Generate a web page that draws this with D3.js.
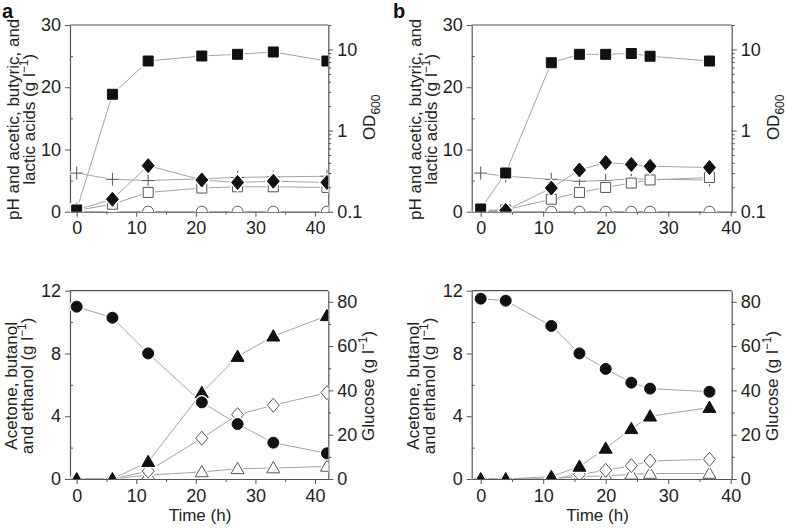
<!DOCTYPE html>
<html><head><meta charset="utf-8">
<script src="https://cdn.jsdelivr.net/npm/d3@7/dist/d3.min.js"></script>
<style>
html,body{margin:0;padding:0;background:#fff;}
svg{display:block;font-family:"Liberation Sans",Arial,sans-serif;}
</style></head>
<body>
<svg id="c" width="786" height="528"></svg>
<script>
// ---------- DATA ----------
const timeA = [0, 6, 12, 21, 27, 33, 42];
const odA = [0.105, 2.8, 7.2, 8.3, 8.7, 9.3, 7.2];
const phA = [6.2, 5.2, 5.0, 5.3, 5.5, 5.6, 5.7];
const butyricA = [0.3, 2.0, 7.4, 5.1, 4.7, 4.9, 4.7];
const aceticA = [0.2, 1.2, 3.1, 3.8, 4.0, 4.0, 3.9];
const lacticA = [0, 0, 0, 0, 0, 0, 0];
const glucoseA = [77.8, 72.8, 56.7, 34.6, 24.8, 16.4, 11.6];
const butanolA = [0, 0, 1.1, 5.5, 7.8, 9.1, 10.4];
const acetoneA = [0, 0, 0.5, 2.6, 4.1, 4.7, 5.5];
const ethanolA = [0, 0, 0.25, 0.45, 0.65, 0.7, 0.8];

const timeB = [0, 4, 11.3, 15.8, 20, 24.1, 27.1, 36.6];
const odB = [0.108, 0.30, 6.85, 8.7, 8.7, 8.9, 8.25, 7.2];
const phB = [6.2, 5.7, 5.2, 4.9, 5.0, 5.3, 5.2, 5.1];
const butyricB = [0.2, 0.2, 3.8, 6.7, 7.9, 7.6, 7.3, 7.1];
const aceticB = [0.2, 0.3, 2.0, 3.1, 3.9, 4.6, 5.1, 5.5];
const lacticB = [0, 0, 0, 0, 0, 0, 0, 0];
const glucoseB = [81.4, 80.5, 69.1, 56.7, 49.7, 43.5, 40.8, 39.4];
const butanolB = [0, 0, 0.15, 0.8, 1.95, 3.2, 4.0, 4.55];
const acetoneB = [0, 0, 0, 0.3, 0.55, 0.85, 1.15, 1.25];
const ethanolB = [0, 0, 0, 0.15, 0.2, 0.3, 0.35, 0.35];

const xTicks = [0, 10, 20, 30, 40];
const xMinor = [5, 15, 25, 35];
const acidTicks = [0, 10, 20, 30];
const acidMinor = [5, 15, 25];
const odTicks = [0.1, 1, 10];
const solventTicks = [0, 4, 8, 12];
const solventMinor = [2, 6, 10];
const glucoseTicks = [0, 20, 40, 60, 80];
const glucoseMinor = [10, 30, 50, 70];

// ---------- SETUP ----------
const svg = d3.select("#c");
const AX = "#555", LINE = "#a3a3a3", DARK = "#111", OPEN = "#555";
const FS = 18, LFS = 17;

const markers = {
  square: "M-5,-5H5V5H-5Z",
  circle: d3.symbol(d3.symbolCircle, 95)(),
  diamond: "M0,-7L6,0L0,7L-6,0Z",
  triangle: "M0,-6.5L6.5,4.8L-6.5,4.8Z",
  plus: "M-6.5,0H6.5M0,-6.5V6.5"
};

let clipId = 0;
function panel(opt) {
  const {x0, x1, y0, y1, xDomain, yLeft, yRight, rightLog} = opt;
  const g = svg.append("g");
  const x = d3.scaleLinear().domain(xDomain).range([x0, x1]);
  const yl = d3.scaleLinear().domain(yLeft).range([y1, y0]);
  const yr = (rightLog ? d3.scaleLog() : d3.scaleLinear()).domain(yRight).range([y1, y0]);

  g.append("line").attr("x1", x0).attr("x2", x1).attr("y1", y0).attr("y2", y0)
    .attr("stroke", AX).attr("stroke-width", 1.2);

  const styleAxis = sel => {
    sel.select(".domain").attr("stroke", AX).attr("stroke-width", 1.2);
    sel.selectAll(".tick line").attr("stroke", AX).attr("stroke-width", 1);
    sel.selectAll("text").attr("font-size", FS).attr("fill", "#222")
      .attr("font-family", "Liberation Sans, Arial, sans-serif");
  };
  const gx = g.append("g").attr("transform", `translate(0,${y1})`)
    .call(d3.axisBottom(x).tickValues(xTicks).tickSize(5).tickSizeOuter(0).tickPadding(5));
  styleAxis(gx);
  g.append("g").attr("transform", `translate(0,${y1})`)
    .call(d3.axisBottom(x).tickValues(xMinor).tickSize(3).tickSizeOuter(0).tickFormat(""))
    .call(s => { s.select(".domain").remove(); s.selectAll("line").attr("stroke", AX); });

  const gl = g.append("g").attr("transform", `translate(${x0},0)`)
    .call(d3.axisLeft(yl).tickValues(opt.leftTicks).tickSize(5).tickSizeOuter(0).tickPadding(4));
  styleAxis(gl);
  g.append("g").attr("transform", `translate(${x0},0)`)
    .call(d3.axisRight(yl).tickValues(opt.leftMinor).tickSize(3).tickSizeOuter(0).tickFormat(""))
    .call(s => { s.select(".domain").remove(); s.selectAll("line").attr("stroke", AX); });

  const gr = g.append("g").attr("transform", `translate(${x1},0)`)
    .call(d3.axisRight(yr).tickValues(opt.rightTicks).tickSize(5).tickSizeOuter(0).tickPadding(4)
      .tickFormat(rightLog ? (d => d3.format("~g")(d)) : d3.format("d")));
  styleAxis(gr);
  let rMinor = opt.rightMinor;
  if (rightLog) {
    rMinor = [];
    [0.1, 1, 10].forEach(dec => { for (let k = 2; k <= 9; k++) { const v = dec * k; if (v <= yRight[1]) rMinor.push(v); } });
  }
  g.append("g").attr("transform", `translate(${x1},0)`)
    .call(d3.axisRight(yr).tickValues(rMinor).tickSize(3).tickSizeOuter(0).tickFormat(""))
    .call(s => { s.select(".domain").remove(); s.selectAll("line").attr("stroke", AX); });

  const id = "clip" + (clipId++);
  svg.append("defs").append("clipPath").attr("id", id).append("rect")
    .attr("x", x0).attr("y", y0).attr("width", x1 - x0).attr("height", y1 - y0);
  const plot = g.append("g").attr("clip-path", `url(#${id})`);

  opt.series.forEach(s => {
    const sc = s.axis === "right" ? yr : yl;
    const pts = s.t.map((t, i) => [x(t), sc(s.v[i])]);
    plot.append("path").attr("d", d3.line()(pts)).attr("fill", "none")
      .attr("stroke", LINE).attr("stroke-width", 1);
  });
  opt.series.forEach(s => {
    const sc = s.axis === "right" ? yr : yl;
    const mg = plot.append("g");
    s.t.forEach((t, i) => {
      const tr = `translate(${x(t)},${sc(s.v[i])})`;
      mg.append("path").attr("d", markers[s.shape]).attr("transform", tr)
        .attr("fill", s.shape === "plus" ? "none" : "#fff").attr("stroke", "#fff").attr("stroke-width", 3.5);
      mg.append("path").attr("d", markers[s.shape]).attr("transform", tr)
        .attr("fill", s.shape === "plus" ? "none" : (s.filled ? DARK : "#fff"))
        .attr("stroke", s.filled ? DARK : OPEN).attr("stroke-width", 1);
    });
  });
  return {x, yl, yr};
}

function rotLabel(lines, cy, baselines) {
  lines.forEach((ln, i) => {
    const t = svg.append("text").attr("transform", `translate(${baselines[i]},${cy}) rotate(-90)`)
      .attr("text-anchor", "middle").attr("font-size", LFS).attr("fill", "#222");
    ln.forEach(part => {
      const ts = t.append("tspan").text(part.s);
      if (part.sup) ts.attr("font-size", 12).attr("dy", -7);
      if (part.sub) ts.attr("font-size", 12).attr("dy", 5);
      if (part.back) ts.attr("dy", part.back);
    });
  });
}

// ---------- PANELS ----------
const topY0 = 25, topY1 = 211.7, botY0 = 290.7, botY1 = 479;
const A = {x0: 70, x1: 328.3, xDomain: [-1.12, 42.23], tcx: 200};
const B = {x0: 471.7, x1: 731.7, xDomain: [-1.44, 40.16], tcx: 597.5};

[[A, timeA, odA, phA, butyricA, aceticA, lacticA], [B, timeB, odB, phB, butyricB, aceticB, lacticB]].forEach(([P, t, od, ph, bu, ac, la]) => {
  panel({x0: P.x0, x1: P.x1, y0: topY0, y1: topY1, xDomain: P.xDomain,
    yLeft: [0, 30], yRight: [0.1, 20], rightLog: true,
    leftTicks: acidTicks, leftMinor: acidMinor, rightTicks: odTicks,
    series: [
      {t, v: la, shape: "circle", filled: false},
      {t, v: ph, shape: "plus", filled: false},
      {t, v: ac, shape: "square", filled: false},
      {t, v: bu, shape: "diamond", filled: true},
      {t, v: od, shape: "square", filled: true, axis: "right"}
    ]});
});
[[A, timeA, glucoseA, butanolA, acetoneA, ethanolA], [B, timeB, glucoseB, butanolB, acetoneB, ethanolB]].forEach(([P, t, gl, bu, ac, et]) => {
  panel({x0: P.x0, x1: P.x1, y0: botY0, y1: botY1, xDomain: P.xDomain,
    yLeft: [0, 12], yRight: [0, 85], rightLog: false,
    leftTicks: solventTicks, leftMinor: solventMinor, rightTicks: glucoseTicks, rightMinor: glucoseMinor,
    series: [
      {t, v: et, shape: "triangle", filled: false},
      {t, v: ac, shape: "diamond", filled: false},
      {t, v: bu, shape: "triangle", filled: true},
      {t, v: gl, shape: "circle", filled: true, axis: "right"}
    ]});
});

// ---------- LABELS ----------
const topCy = (topY0 + topY1) / 2 + 1, botCy = (botY0 + botY1) / 2 + 1;
[[0, A], [401.7, B]].forEach(([dx, P]) => {
  rotLabel([[{s: "pH and acetic, butyric, and"}],
            [{s: "lactic acids (g l"}, {s: "−1", sup: true}, {s: ")", back: 7}]],
           topCy, [19 + dx, 35 + dx]);
  rotLabel([[{s: "OD"}, {s: "600", sub: true}]], topCy - 2, [P.x1 + 47]);
  rotLabel([[{s: "Acetone, butanol"}],
            [{s: "and ethanol (g l"}, {s: "−1", sup: true}, {s: ")", back: 7}]],
           botCy, [17 + dx, 33 + dx]);
  rotLabel([[{s: "Glucose (g l"}, {s: "−1", sup: true}, {s: ")", back: 7}]], botCy, [P.x1 + 46]);
  svg.append("text").attr("x", P.tcx).attr("y", 521).attr("text-anchor", "middle")
    .attr("font-size", LFS).attr("fill", "#222").text("Time (h)");
});
svg.append("text").attr("x", 2).attr("y", 18).attr("font-size", 20).attr("font-weight", "bold").attr("fill", "#111").text("a");
svg.append("text").attr("x", 393).attr("y", 18).attr("font-size", 20).attr("font-weight", "bold").attr("fill", "#111").text("b");
</script>
</body></html>
